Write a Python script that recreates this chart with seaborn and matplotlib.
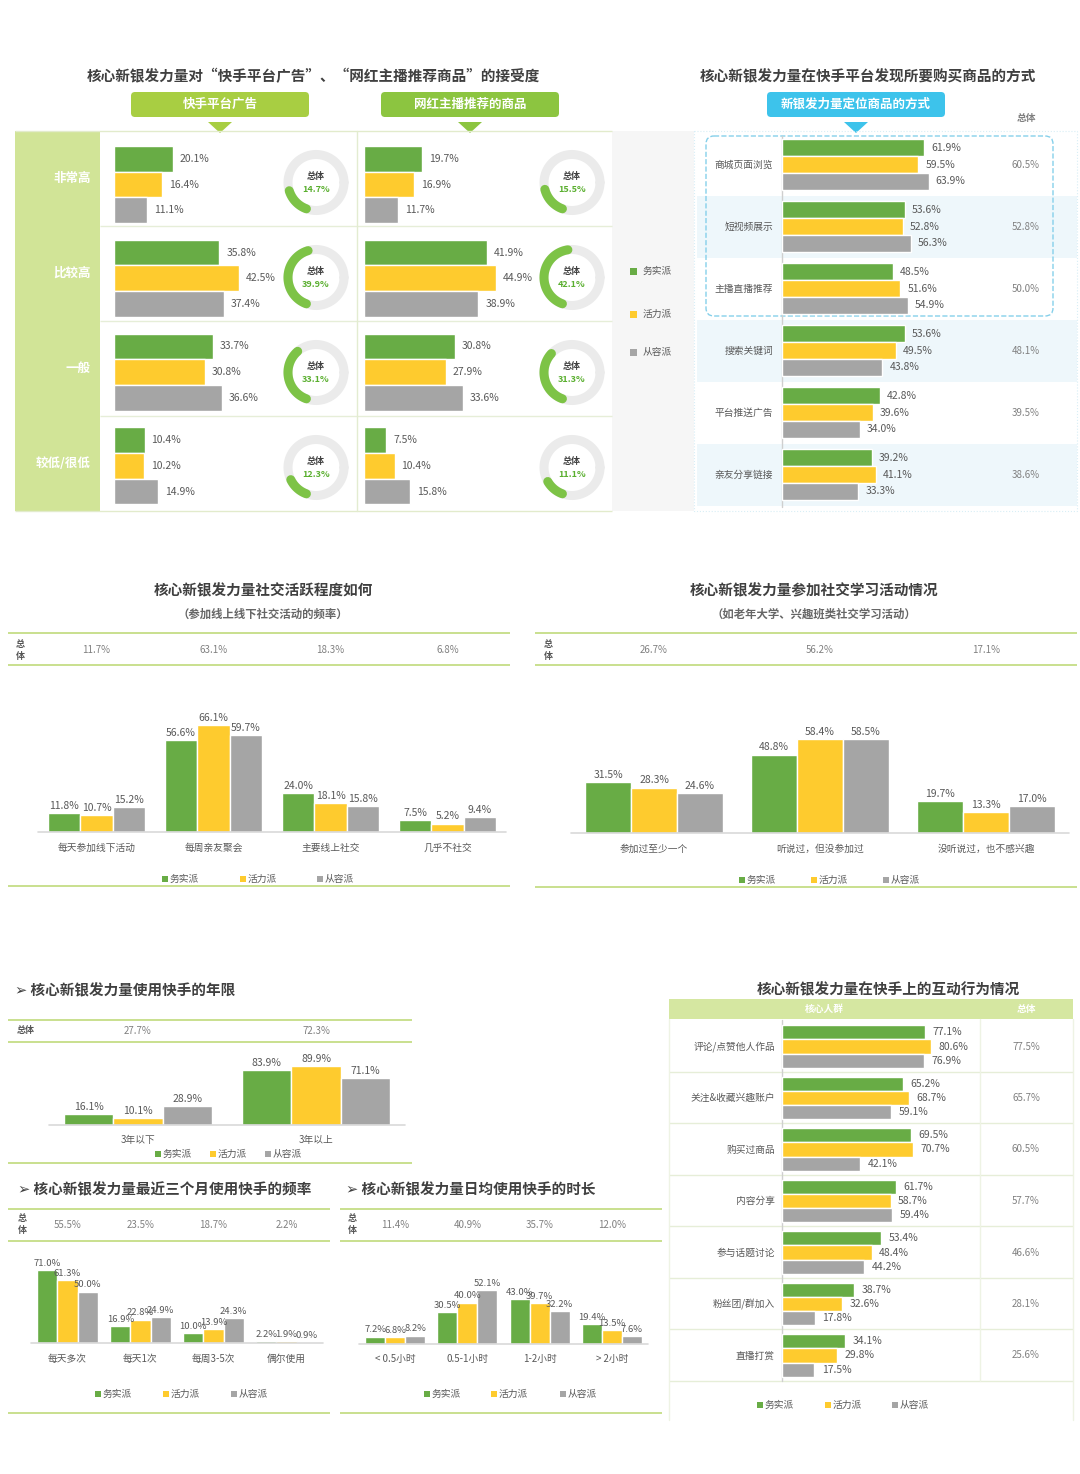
import numpy as np
import pandas as pd
import matplotlib
matplotlib.use('Agg')
import matplotlib.pyplot as plt
import seaborn as sns
from matplotlib.patches import Rectangle, FancyBboxPatch, Polygon

sns.set_theme(style='white')
plt.rcParams['font.family'] = ['Noto Sans CJK SC', 'DejaVu Sans']
plt.rcParams['axes.unicode_minus'] = False

W, H = 1080, 1474
GROUPS = ['务实派', '活力派', '从容派']
COLORS = ['#68ac45', '#fecb2e', '#a5a5a5']
TXT = '#595959'
TOT = '#808080'
TITLE = '#404040'
LINE_G = '#c9e08e'

# --- data ---
accept_levels = ['非常高', '比较高', '一般', '较低/很低']
ad_practical = [20.1, 35.8, 33.7, 10.4]
ad_vital = [16.4, 42.5, 30.8, 10.2]
ad_leisure = [11.1, 37.4, 36.6, 14.9]
ad_total = [14.7, 39.9, 33.1, 12.3]
kol_practical = [19.7, 41.9, 30.8, 7.5]
kol_vital = [16.9, 44.9, 27.9, 10.4]
kol_leisure = [11.7, 38.9, 33.6, 15.8]
kol_total = [15.5, 42.1, 31.3, 11.1]

find_ways = ['商城页面浏览', '短视频展示', '主播直播推荐', '搜索关键词', '平台推送广告', '亲友分享链接']
find_practical = [61.9, 53.6, 48.5, 53.6, 42.8, 39.2]
find_vital = [59.5, 52.8, 51.6, 49.5, 39.6, 41.1]
find_leisure = [63.9, 56.3, 54.9, 43.8, 34.0, 33.3]
find_total = [60.5, 52.8, 50.0, 48.1, 39.5, 38.6]

social_cats = ['每天参加线下活动', '每周亲友聚会', '主要线上社交', '几乎不社交']
social_practical = [11.8, 56.6, 24.0, 7.5]
social_vital = [10.7, 66.1, 18.1, 5.2]
social_leisure = [15.2, 59.7, 15.8, 9.4]
social_total = [11.7, 63.1, 18.3, 6.8]

study_cats = ['参加过至少一个', '听说过，但没参加过', '没听说过，也不感兴趣']
study_practical = [31.5, 48.8, 19.7]
study_vital = [28.3, 58.4, 13.3]
study_leisure = [24.6, 58.5, 17.0]
study_total = [26.7, 56.2, 17.1]

years_cats = ['3年以下', '3年以上']
years_practical = [16.1, 83.9]
years_vital = [10.1, 89.9]
years_leisure = [28.9, 71.1]
years_total = [27.7, 72.3]

freq_cats = ['每天多次', '每天1次', '每周3-5次', '偶尔使用']
freq_practical = [71.0, 16.9, 10.0, 2.2]
freq_vital = [61.3, 22.8, 13.9, 1.9]
freq_leisure = [50.0, 24.9, 24.3, 0.9]
freq_total = [55.5, 23.5, 18.7, 2.2]

dur_cats = ['< 0.5小时', '0.5-1小时', '1-2小时', '> 2小时']
dur_practical = [7.2, 30.5, 43.0, 19.4]
dur_vital = [6.8, 40.0, 39.7, 13.5]
dur_leisure = [8.2, 52.1, 32.2, 7.6]
dur_total = [11.4, 40.9, 35.7, 12.0]

act_cats = ['评论/点赞他人作品', '关注&收藏兴趣账户', '购买过商品', '内容分享', '参与话题讨论', '粉丝团/群加入', '直播打赏']
act_practical = [77.1, 65.2, 69.5, 61.7, 53.4, 38.7, 34.1]
act_vital = [80.6, 68.7, 70.7, 58.7, 48.4, 32.6, 29.8]
act_leisure = [76.9, 59.1, 42.1, 59.4, 44.2, 17.8, 17.5]
act_total = [77.5, 65.7, 60.5, 57.7, 46.6, 28.1, 25.6]


def to_long(cats, practical, vital, leisure):
    rows = []
    for vals, g in zip([practical, vital, leisure], GROUPS):
        for c, v in zip(cats, vals):
            rows.append({'cat': c, 'group': g, 'value': v})
    return pd.DataFrame(rows)


fig = plt.figure(figsize=(W / 100, H / 100), dpi=100)
bg = fig.add_axes([0, 0, 1, 1])
bg.set_xlim(0, W)
bg.set_ylim(H, 0)
bg.axis('off')


def px_axes(x0, y0, x1, y1):
    ax = fig.add_axes([x0 / W, 1 - y1 / H, (x1 - x0) / W, (y1 - y0) / H])
    ax.patch.set_alpha(0)
    return ax


def txt(x, y, s, size=7.5, color=TXT, ha='center', weight='normal', **kw):
    bg.text(x, y, s, fontsize=size, color=color, ha=ha, va='center', fontweight=weight, **kw)


def hline(x0, x1, y, color=LINE_G, lw=1.4, **kw):
    bg.plot([x0, x1], [y, y], color=color, lw=lw, solid_capstyle='butt', **kw)


def vline(x, y0, y1, color='#e3ecd1', lw=1, **kw):
    bg.plot([x, x], [y0, y1], color=color, lw=lw, **kw)


def legend_row(xs, y, size=7):
    for x, g, c in zip(xs, GROUPS, COLORS):
        bg.add_patch(Rectangle((x - 3, y - 3), 6, 6, color=c, lw=0))
        txt(x + 5, y, g, size=size, ha='left')


def stacked_total(x, y):
    # the two-line "总/体" header of the totals row
    txt(x, y - 6, '总', size=6.5, color='#555555', weight='bold')
    txt(x, y + 6, '体', size=6.5, color='#555555', weight='bold')


def pill(x, y, w, h, color, label):
    bg.add_patch(FancyBboxPatch((x, y), w, h, boxstyle='round,pad=0,rounding_size=4',
                                fc=color, ec='none'))
    txt(x + w / 2, y + h / 2, label, size=9, color='white', weight='bold')
    cx = x + w / 2
    bg.add_patch(Polygon([(cx - 12, y + h + 5), (cx + 12, y + h + 5), (cx, y + h + 16)],
                         closed=True, fc=color, ec='none'))


def vbar(df, cats, totals, x0, x1, base, scale, ymax, tot_y, lab_off=11.5, size=7.5):
    top = base - ymax * scale
    ax = px_axes(x0, top, x1, base)
    sns.barplot(data=df, x='cat', y='value', hue='group', order=cats, hue_order=GROUPS,
                palette=COLORS, width=0.83, saturation=1, legend=False, errorbar=None, ax=ax)
    ax.set_xlim(-0.5, len(cats) - 0.5)
    ax.set_ylim(0, ymax)
    for cont in ax.containers:
        ax.bar_label(cont, fmt='%.1f%%', padding=1.5, fontsize=size, color=TXT)
    ax.axhline(0, color='#d9d9d9', lw=1.2, clip_on=False)
    for i, c in enumerate(cats):
        ax.annotate(c, (i, 0), xytext=(0, -lab_off), textcoords='offset points',
                    ha='center', va='center', fontsize=7, color=TXT, annotation_clip=False)
        ax.annotate(f'{totals[i]:.1f}%', (i, H - tot_y), xycoords=('data', 'figure pixels'),
                    ha='center', va='center', fontsize=7, color=TOT, annotation_clip=False)
    ax.axis('off')
    return ax


def hbar(df, cats, x0, scale, yc0, pitch, xmax=100, pad=5, size=7.5, width=0.82):
    n = len(cats)
    y0 = yc0 - pitch / 2
    ax = px_axes(x0, y0, x0 + xmax * scale, y0 + n * pitch)
    sns.barplot(data=df, y='cat', x='value', hue='group', order=cats, hue_order=GROUPS,
                palette=COLORS, width=width, saturation=1, legend=False, errorbar=None,
                orient='h', ax=ax)
    ax.set_xlim(0, xmax)
    ax.set_ylim(n - 0.5, -0.5)
    for cont in ax.containers:
        ax.bar_label(cont, fmt='%.1f%%', padding=pad, fontsize=size, color=TXT)
    ax.axis('off')
    return ax


def donut(cx, cy, pct):
    r = 28
    t = np.linspace(0, 2 * np.pi, 240)
    bg.plot(cx + r * np.cos(t), cy - r * np.sin(t), color='#ebebeb', lw=6.5)
    start = np.deg2rad(250)
    t2 = np.linspace(start, start - 2 * np.pi * pct / 100, 120)
    bg.plot(cx + r * np.cos(t2), cy - r * np.sin(t2), color='#7dc346', lw=6.5,
            solid_capstyle='round')
    txt(cx, cy - 6, '总体', size=6.5, color='#404040', weight='bold')
    txt(cx, cy + 7, f'{pct:.1f}%', size=6.5, color='#5aaf2f', weight='bold')


# ================= panel 1 =================
txt(313, 76, '核心新银发力量对“快手平台广告”、“网红主播推荐商品”的接受度', size=10.5,
    color=TITLE, weight='bold')
pill(131, 92, 178, 25, '#a8ce42', '快手平台广告')
pill(381, 92, 178, 25, '#8cc540', '网红主播推荐的商品')
bg.add_patch(Rectangle((15, 131), 85, 380, fc='#d1e497', ec='none'))
bg.add_patch(Rectangle((612, 131), 82, 380, fc='#f6f6f6', ec='none'))
hline(15, 612, 131, color='#e2ebcc', lw=1)
hline(15, 612, 511, color='#e2ebcc', lw=1)
for k in range(1, 4):
    hline(100, 612, 131 + 95 * k, color='#e6eed8', lw=1)
vline(357, 131, 511)
for i, lev in enumerate(accept_levels):
    yc = 131 + 95 * (i + 0.5)
    txt(91, yc, lev, size=9, color='white', weight='bold', ha='right')
    donut(316, yc + 4, ad_total[i])
    donut(572, yc + 4, kol_total[i])

hbar(to_long(accept_levels, ad_practical, ad_vital, ad_leisure), accept_levels,
     114, 2.94, 184.5, 93.8)
hbar(to_long(accept_levels, kol_practical, kol_vital, kol_leisure), accept_levels,
     364, 2.94, 184.5, 93.8)

for y, g, c in zip([271, 314, 352], GROUPS, COLORS):
    bg.add_patch(Rectangle((630, y - 3.5), 7, 7, color=c, lw=0))
    txt(643, y, g, size=7, ha='left')

# ================= panel 2 =================
txt(868, 76, '核心新银发力量在快手平台发现所要购买商品的方式', size=10.5, color=TITLE,
    weight='bold')
pill(767, 92, 178, 25, '#3dc3eb', '新银发力量定位商品的方式')
txt(1026, 118, '总体', size=7, color=TOT, weight='bold')
for i in range(len(find_ways)):
    if i % 2 == 1:
        bg.add_patch(Rectangle((697, 133.5 + 62 * i), 380, 62, fc='#eef7fb', ec='none'))
bg.add_patch(Rectangle((694, 131), 383, 380, fc='none', ec='#d8eef6', lw=0.8, ls=':'))
bg.add_patch(FancyBboxPatch((706, 136), 347, 180, boxstyle='round,pad=0,rounding_size=8',
                            fc='none', ec='#86d0ea', lw=1, ls='--'))
vline(782, 136, 507, color='#cfcfcf', lw=1)
ax2 = hbar(to_long(find_ways, find_practical, find_vital, find_leisure), find_ways,
           782, 2.294, 164.5, 62)
for i, c in enumerate(find_ways):
    ax2.annotate(c, (773, i), xycoords=('figure pixels', 'data'), ha='right', va='center',
                 fontsize=7, color=TXT, annotation_clip=False)
    ax2.annotate(f'{find_total[i]:.1f}%', (1026, i), xycoords=('figure pixels', 'data'),
                 ha='center', va='center', fontsize=7, color=TOT, annotation_clip=False)

# ================= panel 3 =================
txt(263, 590, '核心新银发力量社交活跃程度如何', size=10.5, color=TITLE, weight='bold')
txt(263, 614, '（参加线上线下社交活动的频率）', size=8.2, color='#666666', weight='bold')
hline(8, 510, 633)
hline(8, 510, 665)
stacked_total(20, 650)
vbar(to_long(social_cats, social_practical, social_vital, social_leisure), social_cats,
     social_total, 38, 506, 832, 1.62, 80, 650)
legend_row([165, 243, 320], 879)
hline(8, 510, 886)

# ================= panel 4 =================
txt(814, 590, '核心新银发力量参加社交学习活动情况', size=10.5, color=TITLE, weight='bold')
txt(814, 614, '（如老年大学、兴趣班类社交学习活动）', size=8.2, color='#666666', weight='bold')
hline(535, 1077, 633)
hline(535, 1077, 665)
stacked_total(548, 650)
vbar(to_long(study_cats, study_practical, study_vital, study_leisure), study_cats,
     study_total, 571, 1069, 833, 1.607, 80, 650)
legend_row([742, 814, 886], 880)
hline(535, 1077, 887)

# ================= panel 5 =================
txt(15, 990, '➢ 核心新银发力量使用快手的年限', size=10.5, color=TITLE, weight='bold', ha='left')
hline(8, 412, 1020)
hline(8, 412, 1042)
txt(17, 1031, '总体', size=6.5, color='#555555', weight='bold', ha='left')
vbar(to_long(years_cats, years_practical, years_vital, years_leisure), years_cats,
     years_total, 49, 405, 1125, 0.656, 100, 1031, lab_off=11)
legend_row([158, 213, 268], 1154)
hline(8, 412, 1163)

# ================= panel 6 =================
txt(18, 1189, '➢ 核心新银发力量最近三个月使用快手的频率', size=10.5, color=TITLE, weight='bold',
    ha='left')
hline(8, 330, 1209)
hline(8, 330, 1241)
stacked_total(22, 1225)
vbar(to_long(freq_cats, freq_practical, freq_vital, freq_leisure), freq_cats,
     freq_total, 31, 323, 1343, 1.03, 80, 1225, size=6.8)
legend_row([98, 166, 234], 1394)
hline(8, 330, 1413)

# ================= panel 7 =================
txt(346, 1189, '➢ 核心新银发力量日均使用快手的时长', size=10.5, color=TITLE, weight='bold',
    ha='left')
hline(340, 662, 1209)
hline(340, 662, 1241)
stacked_total(352, 1225)
vbar(to_long(dur_cats, dur_practical, dur_vital, dur_leisure), dur_cats,
     dur_total, 359, 648, 1344, 1.036, 60, 1225, lab_off=11, size=6.8)
legend_row([427, 494, 563], 1394)
hline(340, 662, 1413)

# ================= panel 8 =================
txt(888, 989, '核心新银发力量在快手上的互动行为情况', size=10.5, color=TITLE, weight='bold')
bg.add_patch(Rectangle((669, 999), 404, 20, fc='#d5e7a1', ec='none'))
txt(824, 1009, '核心人群', size=7, color='white', weight='bold')
txt(1026, 1009, '总体', size=7, color='white', weight='bold')
for k in range(1, 8):
    hline(669, 1073, 1020 + 51.5 * k, color='#e6eed8', lw=1)
vline(669, 1019, 1420, color='#eef3e4')
vline(1073, 1019, 1420, color='#eef3e4')
vline(980, 1019, 1381, color='#eef3e4')
vline(782, 1020, 1381, color='#cfcfcf')
ax8 = hbar(to_long(act_cats, act_practical, act_vital, act_leisure), act_cats,
           782, 1.85, 1046.5, 51.5, pad=5.5)
for i, c in enumerate(act_cats):
    ax8.annotate(c, (775, i), xycoords=('figure pixels', 'data'), ha='right', va='center',
                 fontsize=7, color=TXT, annotation_clip=False)
    ax8.annotate(f'{act_total[i]:.1f}%', (1026, i), xycoords=('figure pixels', 'data'),
                 ha='center', va='center', fontsize=7, color=TOT, annotation_clip=False)
legend_row([760, 828, 895], 1405)

fig.savefig('out.png', dpi=100, facecolor='white')
